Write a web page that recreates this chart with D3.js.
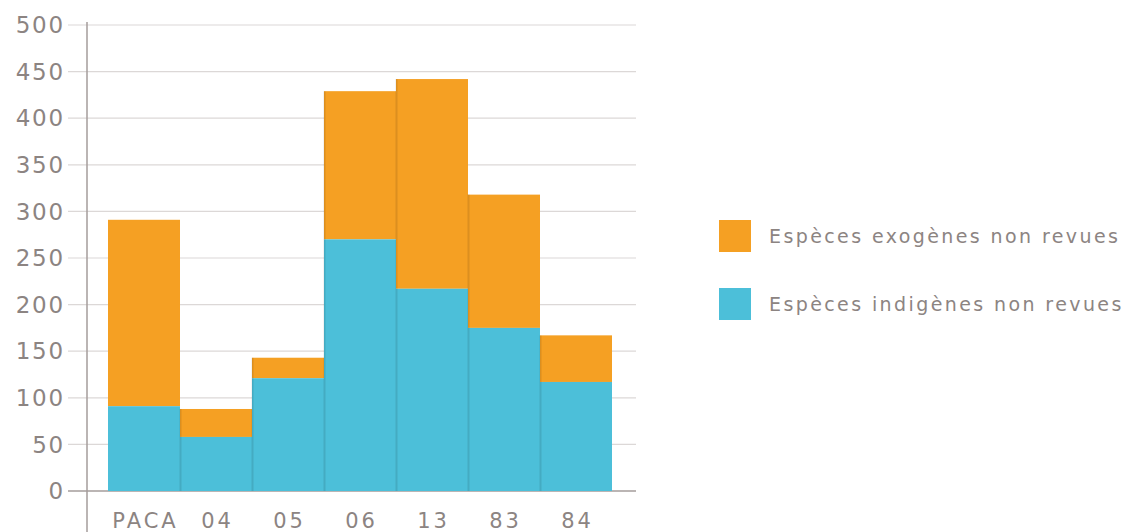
<!DOCTYPE html>
<html>
<head>
<meta charset="utf-8">
<script src="https://cdn.jsdelivr.net/npm/d3@7"></script>
<style>
  body { margin: 0; background: #fff; }
  svg text { font-family: "DejaVu Sans", sans-serif; fill: #8c8482; }
</style>
</head>
<body>
<svg id="chart" width="1135" height="532"></svg>
<script>
const regions = ["PACA", "04", "05", "06", "13", "83", "84"];
const indigenes = [91, 58, 121, 270, 217, 175, 117];
const totals = [291, 88, 143, 429, 442, 318, 167];
const yTicks = [0, 50, 100, 150, 200, 250, 300, 350, 400, 450, 500];
const legendLabels = ["Espèces exogènes non revues", "Espèces indigènes non revues"];

const orange = "#f5a023";
const teal = "#4cbfd9";

const svg = d3.select("#chart");

const x = d3.scaleBand().domain(regions).range([108, 612]).padding(0);
const y = d3.scaleLinear().domain([0, 500]).range([491, 25]);

// grid
svg.append("g")
    .selectAll("line")
    .data(yTicks)
    .join("line")
    .attr("x1", 68)
    .attr("x2", 636)
    .attr("y1", d => y(d))
    .attr("y2", d => y(d))
    .attr("stroke", d => d === 0 ? "#a59d9b" : "#dcd8d7")
    .attr("stroke-width", d => d === 0 ? 1.5 : 1.2);

// y labels (letter-spacing adds a trailing gap, so push them right a bit)
svg.append("g")
    .selectAll("text")
    .data(yTicks)
    .join("text")
    .attr("x", 65)
    .attr("y", d => y(d))
    .attr("dy", "0.36em")
    .attr("text-anchor", "end")
    .attr("font-size", 23)
    .attr("letter-spacing", 1.8)
    .text(d => d);

// bars
const data = regions.map((r, i) => ({ region: r, ind: indigenes[i], tot: totals[i] }));

const bars = svg.append("g").selectAll("g").data(data).join("g");

bars.append("rect")
    .attr("x", d => x(d.region))
    .attr("width", x.bandwidth())
    .attr("y", d => y(d.tot))
    .attr("height", d => y(d.ind) - y(d.tot))
    .attr("fill", orange);

bars.append("rect")
    .attr("x", d => x(d.region))
    .attr("width", x.bandwidth())
    .attr("y", d => y(d.ind))
    .attr("height", d => y(0) - y(d.ind))
    .attr("fill", teal);

// soft shadow on left edges
bars.filter((d, i) => i > 0)
    .append("line")
    .attr("x1", d => x(d.region) + 0.5)
    .attr("x2", d => x(d.region) + 0.5)
    .attr("y1", d => y(d.tot))
    .attr("y2", y(0))
    .attr("stroke", "#000")
    .attr("stroke-opacity", 0.1)
    .attr("stroke-width", 2);

// y axis line
svg.append("line")
    .attr("x1", 87).attr("x2", 87)
    .attr("y1", 22).attr("y2", 532)
    .attr("stroke", "#a59d9b")
    .attr("stroke-width", 1.5);

// x labels
svg.append("g")
    .selectAll("text")
    .data(regions)
    .join("text")
    .attr("x", d => x(d) + x.bandwidth() / 2)
    .attr("dx", 1.5)
    .attr("y", 528)
    .attr("text-anchor", "middle")
    .attr("font-size", 21)
    .attr("letter-spacing", 3)
    .text(d => d);

// legend
const legend = svg.append("g")
    .selectAll("g")
    .data(legendLabels)
    .join("g")
    .attr("transform", (d, i) => `translate(719, ${220 + i * 68})`);

legend.append("rect")
    .attr("width", 32)
    .attr("height", 32)
    .attr("fill", (d, i) => i === 0 ? orange : teal);

legend.append("text")
    .attr("x", 50)
    .attr("y", 16)
    .attr("dy", "0.35em")
    .attr("font-size", 19)
    .attr("letter-spacing", 2.4)
    .text(d => d);
</script>
</body>
</html>
